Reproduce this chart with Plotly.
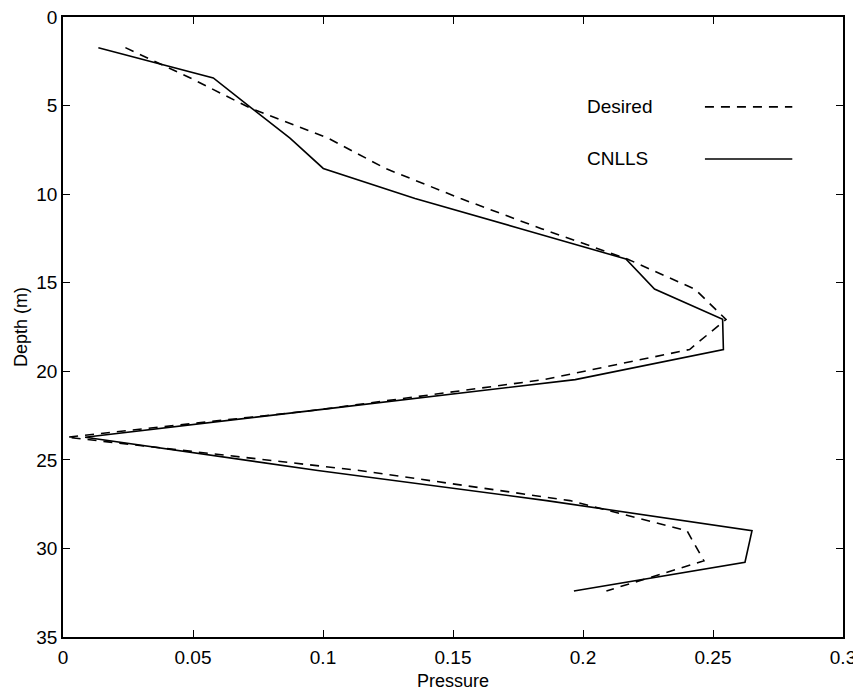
import plotly.graph_objects as go

# Depth (m) levels and pressure values
depth_cnlls = [1.73, 3.44, 5.14, 6.84, 8.55, 10.25, 11.95, 13.66, 15.36, 17.07,
               18.77, 20.47, 22.18, 23.72, 25.6, 27.3, 29.0, 30.78, 32.4]
pressure_cnlls = [0.0136, 0.0578, 0.0725, 0.0873, 0.1001, 0.1354, 0.176, 0.2165,
                  0.2275, 0.2537, 0.254, 0.197, 0.098, 0.0085, 0.098, 0.186,
                  0.265, 0.2623, 0.1965]

depth_desired = [1.73, 3.43, 5.14, 6.84, 8.55, 10.25, 11.95, 13.66, 15.36, 17.07,
                 18.77, 20.47, 22.18, 23.72, 25.6, 27.3, 29.0, 30.7, 32.4]
pressure_desired = [0.024, 0.0488, 0.072, 0.102, 0.124, 0.153, 0.184, 0.217,
                    0.243, 0.255, 0.241, 0.185, 0.098, 0.0015, 0.114, 0.195,
                    0.240, 0.2465, 0.209]

x_ticks = [0, 0.05, 0.1, 0.15, 0.2, 0.25, 0.3]
x_tick_labels = ["0", "0.05", "0.1", "0.15", "0.2", "0.25", "0.3"]
y_ticks = [0, 5, 10, 15, 20, 25, 30, 35]

legend_names = ["Desired", "CNLLS"]

FONT = "Liberation Sans, Arial, Helvetica, sans-serif"

fig = go.Figure()
fig.add_trace(go.Scatter(x=pressure_desired, y=depth_desired, mode="lines",
                         name=legend_names[0],
                         line=dict(color="black", width=1.6, dash="9px,7px")))
fig.add_trace(go.Scatter(x=pressure_cnlls, y=depth_cnlls, mode="lines",
                         name=legend_names[1],
                         line=dict(color="black", width=1.6)))

# legend drawn like the original: text on the left, line sample on the right
leg_y = [0.855, 0.771]
leg_dash = ["9px,7px", "solid"]
for name, yy, dsh in zip(legend_names, leg_y, leg_dash):
    fig.add_annotation(x=0.669, y=yy, xref="paper", yref="paper", text=name,
                       showarrow=False, xanchor="left", yanchor="middle",
                       font=dict(family=FONT, size=19, color="black"))
    fig.add_shape(type="line", xref="paper", yref="paper",
                  x0=0.823, x1=0.935, y0=yy, y1=yy,
                  line=dict(color="black", width=1.6, dash=dsh))

axis_common = dict(showgrid=False, zeroline=False, showline=True,
                   linecolor="black", linewidth=1.5, mirror="ticks",
                   ticks="inside", ticklen=7, tickwidth=1.3, tickcolor="black",
                   automargin=False, ticklabeloverflow="allow",
                   tickfont=dict(family=FONT, size=19, color="black"))

fig.update_layout(
    width=861, height=693,
    margin=dict(l=55, r=26, t=9, b=64),
    paper_bgcolor="white", plot_bgcolor="white",
    showlegend=False,
    font=dict(family=FONT, size=18, color="black"),
    xaxis=dict(range=[0, 0.3], tickvals=x_ticks, ticktext=x_tick_labels,
               ticklabelstandoff=2,
               title=dict(text="Pressure", font=dict(family=FONT, size=18), standoff=8),
               **axis_common),
    yaxis=dict(range=[35, 0], tickvals=y_ticks,
               title=dict(text="Depth (m)", font=dict(family=FONT, size=18), standoff=4),
               **axis_common),
)

fig.write_html("out.html")
